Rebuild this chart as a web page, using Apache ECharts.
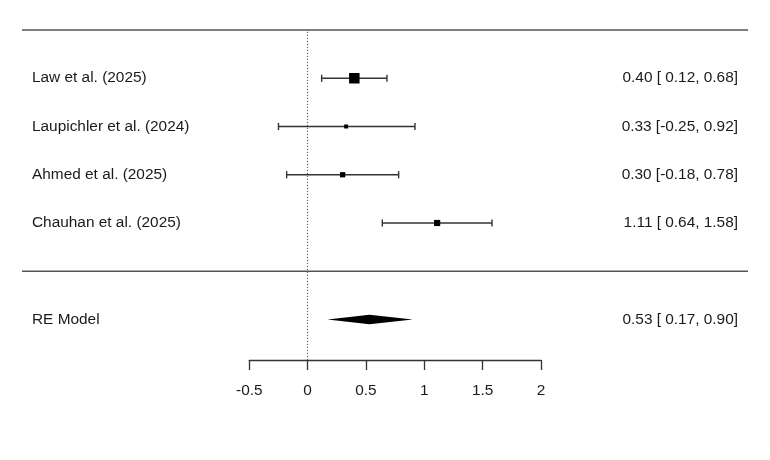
<!DOCTYPE html>
<html>
<head>
<meta charset="utf-8">
<script src="https://cdn.jsdelivr.net/npm/echarts@6/dist/echarts.min.js"></script>
<style>
  html, body { margin: 0; padding: 0; background: #fff; }
  #forest { width: 770px; height: 460px; }
</style>
</head>
<body>
<div id="forest"></div>
<script>
// study rows, top to bottom
var studies = ['Law et al. (2025)', 'Laupichler et al. (2024)', 'Ahmed et al. (2025)', 'Chauhan et al. (2025)'];
var estimates = [0.40, 0.33, 0.30, 1.11];
var lowerCI = [0.12, -0.25, -0.18, 0.64];
var upperCI = [0.68, 0.92, 0.78, 1.58];
var weights = [38, 17, 21, 24]; // % weight

// pooled random-effects estimate
var summaryLabel = ['RE Model'];
var summaryEst = [0.53];
var summaryLower = [0.17];
var summaryUpper = [0.90];

var xTicks = [-0.5, 0, 0.5, 1, 1.5, 2];

var k = studies.length;
var textFont = '15.4px "Liberation Sans", Arial, sans-serif';
var labelX = 32, ciRightX = 738, lineLeft = 22, lineRight = 748;

function fmt(v, width) {
    var s = v.toFixed(2);
    while (s.length < width) s = ' ' + s;
    return s;
}
var lbWidth = Math.max.apply(null, lowerCI.concat(summaryLower).map(function (v) { return v.toFixed(2).length; }));
var ubWidth = Math.max.apply(null, upperCI.concat(summaryUpper).map(function (v) { return v.toFixed(2).length; }));
function ciText(est, lo, hi) {
    return est.toFixed(2) + ' [' + fmt(lo, lbWidth) + ', ' + fmt(hi, ubWidth) + ']';
}

var wMin = Math.min.apply(null, weights), wMax = Math.max.apply(null, weights);
function boxSize(w) {
    return 4 + (w - wMin) / (wMax - wMin) * 6.5;
}

function textEl(x, y, str, align) {
    return {
        type: 'text',
        style: {
            x: x, y: y, text: str, font: textFont, fill: '#1a1a1a',
            align: align, verticalAlign: 'middle',
            textAlign: align, textVerticalAlign: 'middle'
        }
    };
}

var studyData = studies.map(function (name, i) {
    return [k - i, estimates[i], lowerCI[i], upperCI[i], weights[i]];
});
var summaryData = summaryLabel.map(function (name, i) {
    return [-1, summaryEst[i], summaryLower[i], summaryUpper[i]];
});

function renderStudy(params, api) {
    var i = params.dataIndex;
    var y = api.value(0);
    var pe = api.coord([api.value(1), y]);
    var lo = api.coord([api.value(2), y]);
    var hi = api.coord([api.value(3), y]);
    var s = boxSize(api.value(4));
    var lineStyle = { stroke: '#333', lineWidth: 1.4 };
    return {
        type: 'group',
        children: [
            { type: 'line', shape: { x1: lo[0], y1: lo[1], x2: hi[0], y2: hi[1] }, style: lineStyle },
            { type: 'line', shape: { x1: lo[0], y1: lo[1] - 3.6, x2: lo[0], y2: lo[1] + 3.6 }, style: lineStyle },
            { type: 'line', shape: { x1: hi[0], y1: hi[1] - 3.6, x2: hi[0], y2: hi[1] + 3.6 }, style: lineStyle },
            { type: 'rect', shape: { x: pe[0] - s / 2, y: pe[1] - s / 2, width: s, height: s }, style: { fill: '#000' } },
            textEl(labelX, pe[1], studies[i], 'left'),
            textEl(ciRightX, pe[1], ciText(estimates[i], lowerCI[i], upperCI[i]), 'right')
        ]
    };
}

function renderSummary(params, api) {
    var i = params.dataIndex;
    var y = api.value(0);
    var pe = api.coord([api.value(1), y]);
    var lo = api.coord([api.value(2), y]);
    var hi = api.coord([api.value(3), y]);
    var h = 4.8;
    return {
        type: 'group',
        children: [
            {
                type: 'polygon',
                shape: { points: [[lo[0], lo[1]], [pe[0], pe[1] - h], [hi[0], hi[1]], [pe[0], pe[1] + h]] },
                style: { fill: '#000' }
            },
            textEl(labelX, pe[1], summaryLabel[i], 'left'),
            textEl(ciRightX, pe[1], ciText(summaryEst[i], summaryLower[i], summaryUpper[i]), 'right')
        ]
    };
}

function renderRule(params, api) {
    var p = api.coord([0, api.value(0)]);
    return {
        type: 'line',
        shape: { x1: lineLeft, y1: p[1], x2: lineRight, y2: p[1] },
        style: { stroke: '#555', lineWidth: 1.4 }
    };
}

var chart = echarts.init(document.getElementById('forest'), null, { renderer: 'canvas' });
var option = {
    backgroundColor: '#fff',
    animation: false,
    grid: {
        left: 249.3,
        right: 229,
        top: 30,
        bottom: 100
    },
    xAxis: {
        type: 'value',
        min: xTicks[0],
        max: xTicks[xTicks.length - 1],
        interval: 0.5,
        axisLine: { show: true, onZero: false, lineStyle: { color: '#333', width: 1.3 } },
        axisTick: { show: true, length: 10, lineStyle: { color: '#333', width: 1.3 } },
        axisLabel: {
            show: true,
            margin: 23,
            color: '#1a1a1a',
            fontSize: 15.4,
            fontFamily: '"Liberation Sans", Arial, sans-serif'
        },
        splitLine: { show: false }
    },
    yAxis: {
        type: 'value',
        min: -1.84,
        max: k + 1,
        show: false,
        splitLine: { show: false }
    },
    series: [
        {
            type: 'custom',
            name: 'rules',
            renderItem: renderRule,
            clip: false,
            silent: true,
            data: [[k + 1], [0]],
            encode: { x: -1, y: 0 }
        },
        {
            type: 'line',
            name: 'zero',
            data: [],
            markLine: {
                silent: true,
                symbol: 'none',
                label: { show: false },
                lineStyle: { type: [1.3, 1.7], color: '#666', width: 1.2 },
                data: [{ xAxis: 0 }]
            }
        },
        {
            type: 'custom',
            name: 'studies',
            renderItem: renderStudy,
            clip: false,
            data: studyData,
            encode: { x: [1, 2, 3], y: 0 }
        },
        {
            type: 'custom',
            name: 'summary',
            renderItem: renderSummary,
            clip: false,
            data: summaryData,
            encode: { x: [1, 2, 3], y: 0 }
        }
    ]
};
chart.setOption(option);
window.addEventListener('resize', function () {
    chart.resize();
});
</script>
</body>
</html>
